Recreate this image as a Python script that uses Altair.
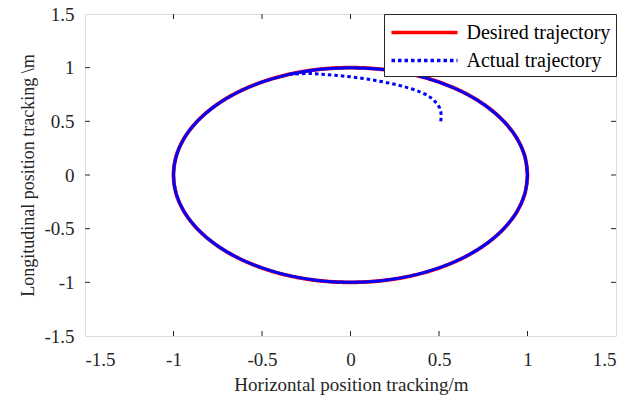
import altair as alt
import pandas as pd

DESIRED = "Desired trajectory"
ACTUAL = "Actual trajectory"

# Desired trajectory (every 10 degrees round the circle)
desired_x = [1.000, 0.985, 0.940, 0.866, 0.766, 0.643, 0.500, 0.342, 0.174, 0.000,
             -0.174, -0.342, -0.500, -0.643, -0.766, -0.866, -0.940, -0.985, -1.000,
             -0.985, -0.940, -0.866, -0.766, -0.643, -0.500, -0.342, -0.174, 0.000,
             0.174, 0.342, 0.500, 0.643, 0.766, 0.866, 0.940, 0.985, 1.000]
desired_y = [0.000, 0.174, 0.342, 0.500, 0.643, 0.766, 0.866, 0.940, 0.985, 1.000,
             0.985, 0.940, 0.866, 0.766, 0.643, 0.500, 0.342, 0.174, 0.000,
             -0.174, -0.342, -0.500, -0.643, -0.766, -0.866, -0.940, -0.985, -1.000,
             -0.985, -0.940, -0.866, -0.766, -0.643, -0.500, -0.342, -0.174, 0.000]

# Actual trajectory: transient from (0.5, 0.5) up to the circle ...
actual_transient_x = [0.510, 0.512, 0.505, 0.480, 0.450, 0.400, 0.330, 0.250,
                      0.160, 0.070, -0.030, -0.130, -0.230, -0.342]
actual_transient_y = [0.500, 0.560, 0.620, 0.680, 0.725, 0.770, 0.810, 0.845,
                      0.875, 0.900, 0.920, 0.935, 0.945, 0.940]
# ... then tracking round the circle
actual_track_x = [-0.342, -0.500, -0.643, -0.766, -0.866, -0.940, -0.985, -1.000,
                  -0.985, -0.940, -0.866, -0.766, -0.643, -0.500, -0.342, -0.174,
                  0.000, 0.174, 0.342, 0.500, 0.643, 0.766, 0.866, 0.940, 0.985,
                  1.000, 0.985, 0.940, 0.866, 0.766, 0.643, 0.500, 0.342, 0.174,
                  0.000, -0.174, -0.342]
actual_track_y = [0.940, 0.866, 0.766, 0.643, 0.500, 0.342, 0.174, 0.000,
                  -0.174, -0.342, -0.500, -0.643, -0.766, -0.866, -0.940, -0.985,
                  -1.000, -0.985, -0.940, -0.866, -0.766, -0.643, -0.500, -0.342, -0.174,
                  0.000, 0.174, 0.342, 0.500, 0.643, 0.766, 0.866, 0.940, 0.985,
                  1.000, 0.985, 0.940]

tick_values = [-1.5, -1.0, -0.5, 0.0, 0.5, 1.0, 1.5]
inner_ticks = [-1.0, -0.5, 0.0, 0.5, 1.0]

FONT = "Liberation Serif"
AX = "#262626"
W, H = 531, 322

desired_df = pd.DataFrame({"x": desired_x, "y": desired_y,
                           "i": list(range(len(desired_x))), "series": DESIRED})
transient_df = pd.DataFrame({"x": actual_transient_x, "y": actual_transient_y,
                             "i": list(range(len(actual_transient_x))), "series": ACTUAL})
track_df = pd.DataFrame({"x": actual_track_x, "y": actual_track_y,
                         "i": list(range(len(actual_track_x))), "series": ACTUAL})
ticks_df = pd.DataFrame({"x": inner_ticks, "y": inner_ticks})

xscale = alt.Scale(domain=[-1.5, 1.5], nice=False, zero=False)
yscale = alt.Scale(domain=[-1.5, 1.5], nice=False, zero=False)

common = dict(values=tick_values, labelExpr="'' + datum.value",
              grid=False, ticks=False, tickSize=0, domain=False,
              labelFont=FONT, labelFontSize=19, labelColor=AX,
              titleFont=FONT, titleFontWeight="normal", titleColor=AX)

x_axis = alt.Axis(title="Horizontal position tracking/m",
                  labelBaseline="alphabetic", labelPadding=29,
                  titleFontSize=19,
                  titleBaseline="alphabetic", titleX=266, titleY=54,
                  titleAlign="center", **common)
y_axis = alt.Axis(title="Longitudinal position tracking \\m",
                  labelPadding=11, titleFontSize=18,
                  titleBaseline="alphabetic", titleX=-52, titleY=161,
                  titleAngle=270, titleAlign="center", **common)

X = alt.X("x:Q", scale=xscale, axis=x_axis)
Y = alt.Y("y:Q", scale=yscale, axis=y_axis)

legend = alt.Legend(title=None, orient="top-right", offset=0, padding=5.5,
                    rowPadding=5, symbolType="M-1,0H5", symbolSize=484,
                    symbolStrokeWidth=3.5, labelOffset=51, labelFont=FONT,
                    labelFontSize=20, labelColor="#000000",
                    strokeColor=AX, fillColor="white", cornerRadius=0)

color = alt.Color("series:N",
                  scale=alt.Scale(domain=[DESIRED, ACTUAL], range=["#ff0000", "#0000ff"]),
                  legend=legend)
dash = alt.StrokeDash("series:N",
                      scale=alt.Scale(domain=[DESIRED, ACTUAL], range=[[1, 0], [3.5, 3]]),
                      legend=legend)

desired_line = alt.Chart(desired_df).mark_line(strokeWidth=3.8, interpolate="catmull-rom").encode(
    x=X, y=Y, order=alt.Order("i:Q"), color=color, strokeDash=dash,
)

track_line = alt.Chart(track_df).mark_line(strokeWidth=3, interpolate="catmull-rom").encode(
    x=X, y=Y, order=alt.Order("i:Q"), color=alt.value("#0000ff"),
)

transient_line = alt.Chart(transient_df).mark_line(strokeWidth=3, interpolate="catmull-rom").encode(
    x=X, y=Y, order=alt.Order("i:Q"), color=color, strokeDash=dash,
)

tick_base = alt.Chart(ticks_df).mark_rule(color=AX, strokeWidth=1)
bottom_ticks = tick_base.encode(x=X, y=alt.value(H), y2=alt.value(H - 5))
top_ticks = tick_base.encode(x=X, y=alt.value(0), y2=alt.value(5))
left_ticks = tick_base.encode(y=Y, x=alt.value(0), x2=alt.value(5))
right_ticks = tick_base.encode(y=Y, x=alt.value(W), x2=alt.value(W - 5))

chart = alt.layer(
    desired_line, track_line, transient_line,
    bottom_ticks, top_ticks, left_ticks, right_ticks,
).properties(
    width=W, height=H,
    autosize=alt.AutoSizeParams(type="none"),
    padding={"left": 85, "top": 14, "right": 24, "bottom": 62},
    background="white",
).configure_view(
    stroke=AX, strokeWidth=1
).configure(
    font=FONT
)

chart.save("out.html", embed_options={"renderer": "svg", "actions": False})
